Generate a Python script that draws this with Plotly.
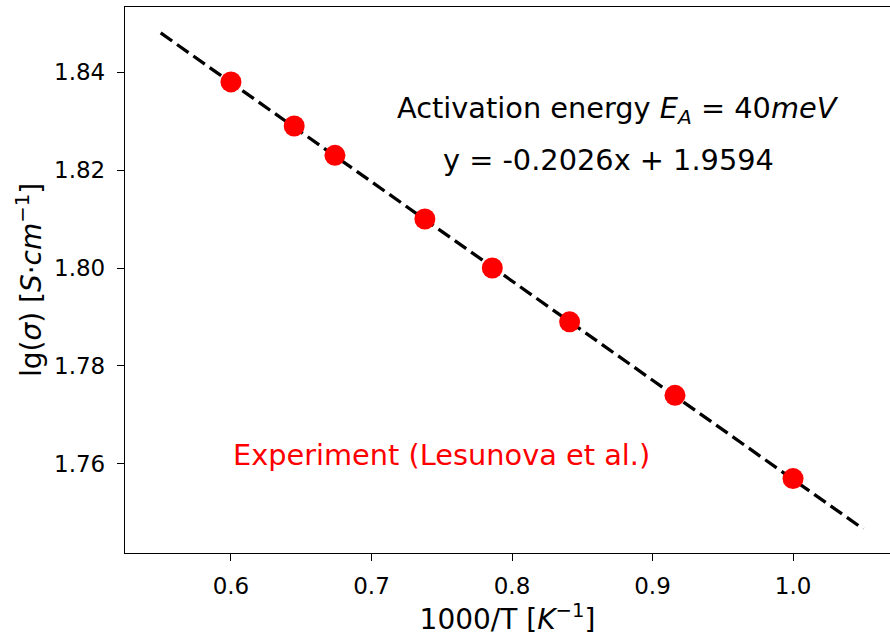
import plotly.graph_objects as go

# data
inv_T = [0.600, 0.645, 0.674, 0.738, 0.786, 0.841, 0.916, 1.000]
lg_sigma = [1.838, 1.829, 1.823, 1.810, 1.800, 1.789, 1.774, 1.757]

# linear fit endpoints (y = -0.2026x + 1.9594)
fit_x = [0.55, 1.05]
fit_y = [1.8480, 1.7467]

x_ticks = [0.6, 0.7, 0.8, 0.9, 1.0]
x_tick_labels = ["0.6", "0.7", "0.8", "0.9", "1.0"]
y_ticks = [1.76, 1.78, 1.80, 1.82, 1.84]
y_tick_labels = ["1.76", "1.78", "1.80", "1.82", "1.84"]

FONT = "DejaVu Sans"
TXT = 28.8

fig = go.Figure()
fig.add_trace(go.Scatter(
    x=fit_x, y=fit_y, mode="lines",
    line=dict(color="black", width=3.3, dash="14px,6px"),
    showlegend=False, hoverinfo="skip",
))
fig.add_trace(go.Scatter(
    x=inv_T, y=lg_sigma, mode="markers",
    marker=dict(color="#ff0000", size=21, line=dict(width=0)),
    showlegend=False,
))

fig.add_annotation(x=0.8754, y=1.8322, xref="x", yref="y",
                   text="Activation energy <i>E</i><sub><i>A</i></sub> = 40<i>meV</i>",
                   showarrow=False, font=dict(family=FONT, size=TXT, color="black"))
fig.add_annotation(x=0.869, y=1.822, xref="x", yref="y",
                   text="y = -0.2026x + 1.9594",
                   showarrow=False, font=dict(family=FONT, size=TXT, color="black"))
fig.add_annotation(x=0.750, y=1.7618, xref="x", yref="y",
                   text="Experiment (Lesunova et al.)",
                   showarrow=False, font=dict(family=FONT, size=TXT, color="#ff0000"))

fig.update_xaxes(
    range=[0.5246, 1.069], tickvals=x_ticks, ticktext=x_tick_labels,
    showline=True, linecolor="black", linewidth=1.3, mirror=True,
    ticks="outside", ticklen=7, tickwidth=1.3, tickcolor="black",
    ticklabelstandoff=5,
    showgrid=False, zeroline=False,
    tickfont=dict(family=FONT, size=23, color="black"),
    title=dict(text="1000/T [<i>K</i><sup>−1</sup>]", font=dict(family=FONT, size=28, color="black"), standoff=8),
)
fig.update_yaxes(
    range=[1.7418, 1.8533], tickvals=y_ticks, ticktext=y_tick_labels,
    showline=True, linecolor="black", linewidth=1.3, mirror=False,
    ticks="outside", ticklen=7, tickwidth=1.3, tickcolor="black",
    ticklabelstandoff=7,
    showgrid=False, zeroline=False,
    tickfont=dict(family=FONT, size=23, color="black"),
    title=dict(text="lg(<i>σ</i>) [<i>S</i>·<i>cm</i><sup>−1</sup>]", font=dict(family=FONT, size=28, color="black"), standoff=4),
)

fig.update_layout(
    width=890, height=637,
    margin=dict(l=125, r=0, t=7, b=84),
    paper_bgcolor="white", plot_bgcolor="white",
    font=dict(family=FONT),
)

fig.write_html("out.html")
